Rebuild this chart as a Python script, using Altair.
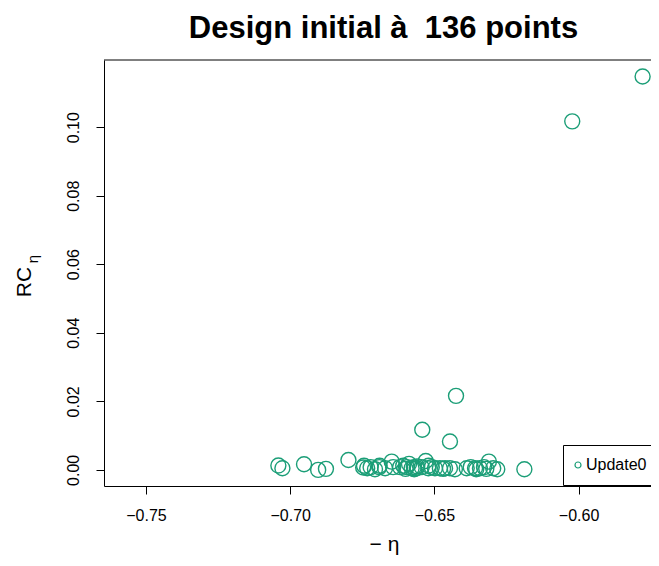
import altair as alt
import pandas as pd

# values
neg_eta = [-0.5778, -0.6022, -0.6425, -0.6542, -0.6446,
           -0.7041, -0.7027, -0.6952, -0.6903, -0.6876, -0.6798, -0.6747,
           -0.6744, -0.6733, -0.6721, -0.6706, -0.6691, -0.6690, -0.6671,
           -0.6648, -0.6643, -0.6619, -0.6608, -0.6600, -0.6596, -0.6588,
           -0.6579, -0.6571, -0.6570, -0.6561, -0.6560, -0.6544, -0.6530,
           -0.6521, -0.6520, -0.6509, -0.6498, -0.6481, -0.6470, -0.6463,
           -0.6446, -0.6429, -0.6388, -0.6374, -0.6359, -0.6355, -0.6342,
           -0.6328, -0.6320, -0.6311, -0.6296, -0.6282, -0.6188]
rc_eta = [0.1148, 0.1017, 0.0216, 0.0117, 0.0083,
          0.00126, 0.0005, 0.00166, 0.0000, 0.0003, 0.0029, 0.0007,
          0.0012, 0.0005, 0.0008, 0.0002, 0.0008, 0.0012, 0.0005,
          0.0024, 0.0008, 0.0008, 0.0012, 0.0003, 0.0008, 0.00175,
          0.0005, 0.0008, 0.0002, 0.0005, 0.0010, 0.0008, 0.0026,
          0.0005, 0.0012, 0.0008, 0.0005, 0.0005, 0.0003, 0.0005,
          0.0005, 0.0002, 0.0005, 0.0008, 0.0005, 0.0002, 0.0005,
          0.0008, 0.0003, 0.0024, 0.0005, 0.0002, 0.0002]
series_name = "Update0"
x_ticks = [-0.75, -0.70, -0.65, -0.60]
y_ticks = [0.00, 0.02, 0.04, 0.06, 0.08, 0.10]
x_domain = [-0.76456, -0.57489]
y_domain = [-0.0047, 0.1196]
green = "#1B9E77"
FONT = "Liberation Sans"

df = pd.DataFrame({"x": neg_eta, "y": rc_eta, "series": [series_name] * len(neg_eta)})

W, H = 547, 426

points = alt.Chart(df).mark_point(
    shape="circle", filled=False, size=225, strokeWidth=1.4, opacity=1
).encode(
    x=alt.X("x:Q", scale=alt.Scale(domain=x_domain, nice=False, zero=False),
            axis=alt.Axis(values=x_ticks, format=".2f", title="− η",
                          titleX=280, titleY=64, titleBaseline="alphabetic",
                          titleFontSize=21, titleFontWeight="normal",
                          titleAnchor="middle", titleAlign="center",
                          labelFontSize=16, tickSize=8, labelPadding=13,
                          labelFlush=False, labelOverlap=False)),
    y=alt.Y("y:Q", scale=alt.Scale(domain=y_domain, nice=False, zero=False),
            axis=alt.Axis(values=y_ticks, format=".2f", title=None,
                          labelAngle=270, labelAlign="center",
                          labelBaseline="alphabetic", labelFontSize=16,
                          tickSize=8, labelPadding=18, labelFlush=False,
                          labelOverlap=False)),
    color=alt.Color("series:N", scale=alt.Scale(domain=[series_name], range=[green]),
                    legend=alt.Legend(orient="none", legendX=459, legendY=385,
                                      title=None, symbolType="circle",
                                      symbolSize=36, symbolStrokeWidth=1.2,
                                      symbolFillColor="white",
                                      symbolOffset=-5,
                                      labelFontSize=16, labelFont=FONT,
                                      labelColor="black",
                                      labelOffset=0, padding=12,
                                      strokeColor="black", fillColor="white")),
)

one = pd.DataFrame({"t": ["RC"]})
rc_title = alt.Chart(one).mark_text(
    angle=270, font=FONT, fontSize=21, align="center", baseline="alphabetic", color="black"
).encode(text="t:N", x=alt.value(-73), y=alt.value(222))

sub = pd.DataFrame({"t": ["η"]})
eta_sub = alt.Chart(sub).mark_text(
    angle=270, font=FONT, fontSize=15, align="center", baseline="alphabetic", color="black"
).encode(text="t:N", x=alt.value(-66), y=alt.value(199))

top_line = alt.Chart(pd.DataFrame({"k": [0]})).mark_rule(color="black", strokeWidth=1).encode(
    x=alt.value(0), x2=alt.value(W), y=alt.value(0)
)

chart = alt.layer(points, rc_title, eta_sub, top_line).properties(
    width=W, height=H,
    background="white",
    title=alt.TitleParams("Design initial à\u00a0 136 points", font=FONT, fontSize=31,
                          fontWeight="bold", anchor="middle", dx=6, dy=29, offset=20,
                          baseline="alphabetic", color="black"),
    autosize=alt.AutoSizeParams(type="none"),
    padding={"left": 96, "top": 52, "right": 0, "bottom": 69},
).configure_view(stroke=None).configure_axis(
    grid=False, domainColor="black", tickColor="black", labelColor="black",
    titleColor="black", labelFont=FONT, titleFont=FONT, domainWidth=1, tickWidth=1
)

chart.save("out.html", embed_options={"renderer": "svg", "actions": False})
